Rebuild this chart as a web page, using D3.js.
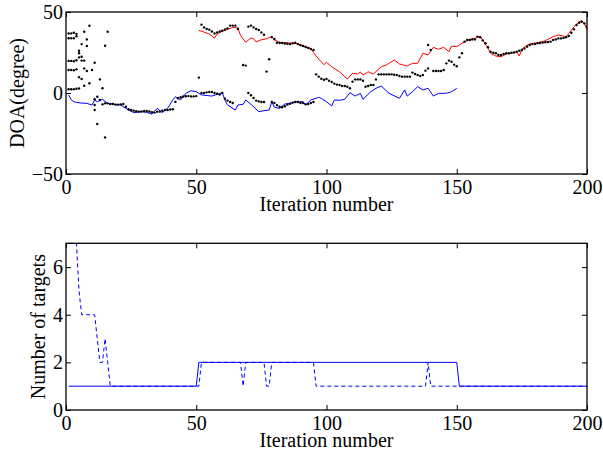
<!DOCTYPE html>
<html>
<head>
<meta charset="utf-8">
<script src="https://cdn.jsdelivr.net/npm/d3@7"></script>
<style>
  html, body { margin: 0; padding: 0; background: #fff; }
  svg { display: block; }
  text { font-family: "Liberation Serif", "Times New Roman", serif; fill: #000; }
</style>
</head>
<body>
<svg id="chart" width="603" height="454"></svg>
<script>
// ---- axis ticks ----
const iterTicks = [0, 50, 100, 150, 200];
const doaTicks = [-50, 0, 50];
const countTicks = [0, 2, 4, 6];

// ---- true DOA of target 1 (blue) ----
const target1Iter = [1, 2, 3, 4, 6, 8, 10, 11, 12, 14, 16, 19, 21, 24, 26, 29, 31, 33, 35, 37, 39, 41, 42, 44, 46, 48, 50,
  52, 56, 60, 61, 62, 65, 66, 68, 69, 71, 74, 76, 78, 79, 80, 82, 84, 86, 88, 91, 92, 94, 97, 98,
  100, 102, 103, 105, 107, 109, 111, 113, 114, 117, 119, 121, 124, 128, 130, 131, 133, 135, 137, 139,
  141, 143, 146, 148, 150];
const target1Doa = [-1.2, -4.2, -5.4, -5.8, -6.2, -6.4, -7.4, -4.3, -5.4, -3.9, -6.4, -7, -7.4, -10.5, -12.1, -11.5, -12, -13, -9.5, -12.1, -9.5, -4.3, -2.3, -4.3, -0.2, 1.4, 0.8,
  -1.2, -1.9, 0.2, -4.3, -7.4, -10.5, -7.4, -7, -4.3, -7, -11.5, -10.9, -10.5, -5.4, -8.8, -9.5, -6.8, -6.4, -5.4, -5.4, -7.4, -4.3, -2.7, -3.3,
  -5.4, -8, -4.3, -4.5, -3.9, 0.2, -1.9, -0.2, -3.9, 0.8, 2.9, 4.3, -0.2, -3.3, 1.9, -1.9, 0.8, 3.9, 1.9, 2.9,
  -1.9, -0.2, -0.2, 0.8, 2.9];

// ---- true DOA of target 2 (red) ----
const target2Iter = [51, 53, 55, 57, 58, 60, 62, 64, 66, 67, 69, 71, 72, 73, 75, 77, 79, 80, 82, 84, 87, 89, 92, 94, 95, 96, 98, 99,
  100, 102, 105, 108, 110, 112, 113, 114, 116, 118, 121, 123, 126, 128, 131, 133, 135, 137, 139, 141, 143, 145, 147, 148,
  150, 151, 153, 155, 157, 158, 159, 160, 162, 163, 165, 167, 169, 171, 173, 174, 175, 177, 179, 181, 184, 187, 189,
  192, 193, 195, 197, 198, 199, 200];
const target2Doa = [38.7, 37.6, 36.4, 33.8, 36.4, 38.2, 39.2, 40.5, 40.2, 35.5, 31.3, 34, 33.5, 31.5, 32.9, 33.5, 34.8, 32.7, 31.3, 31, 30.7, 30.4, 28.6, 27.4, 25, 22.8, 19.2, 17.5,
  19, 16.2, 13.1, 8.6, 12.2, 11.7, 13, 11.1, 13.1, 11.7, 16.2, 17.3, 20.4, 17.9, 16.7, 18.3, 18.3, 24.5, 23.5, 28.2, 27, 28.2, 25.5, 29,
  28.6, 29.6, 31.7, 33.1, 33.8, 34.4, 34.8, 32.7, 27.6, 24.5, 22.8, 22.4, 24.1, 24.5, 25.5, 22.8, 27, 29.6, 30.7, 31, 32.3, 34.8, 35.8,
  34.8, 36.8, 40.9, 44, 44.6, 43, 38.9];

// ---- estimated DOAs (black dots), [iteration, degree] ----
const estEarly = [
  [1, 36.8], [2, 36.8], [3, 37.2], [4, 36.5],
  [1, 33.8], [2, 33.8], [3, 33.8], [4, 35],
  [1, 19.8], [2, 19.8], [3, 19.6], [4, 20.2],
  [1, 14.2], [2, 14.2], [3, 14], [4, 14.6],
  [1, 2.3], [2, 2.3], [3, 2.3], [4, 2.6], [5, 2.8],
  [5, 24.5], [5, 26.1], [5, 22], [5, 9.7], [6, 30.2], [6, 22.4], [6, 8.6], [6, 20],
  [7, 37.8], [7, 20], [7, 15.2], [7, 4.5], [8, 33.1], [8, 29], [8, 13.6], [9, 41.5], [9, 6],
  [10, 14.2], [11, 18.7], [11, -3.9], [11, -10.5], [11, -7.4], [12, -2.3], [12, -19.1], [13, 8.4], [13, -4.3],
  [14, 2.9], [15, 29.2], [15, -27.4], [16, 37.8]
];
const estLower = [
  [14, -7], [15, -6.4], [16, -6.4], [17, -6.8], [18, -6.8], [19, -7.2], [20, -7.2], [21, -7], [22, -6.8],
  [23, -8.5], [24, -10], [25, -10.5], [26, -10.9], [27, -11.3], [28, -11.5], [29, -11.4], [30, -11.1], [31, -11.1],
  [32, -11.4], [33, -11.9], [34, -12.1], [35, -11.5], [36, -11.5], [37, -11], [38, -10.5], [39, -10.5], [40, -10.2],
  [41, -10], [42, -5.5], [43, -3.2], [44, -2.6], [45, -2.2], [46, -2], [47, -1.9], [48, -2.1], [49, -2.1], [50, -1.9],
  [52, 0], [53, 0], [54, 0.4], [55, 0.6], [56, 0.6], [57, 0], [58, -0.5], [59, -1], [60, 0],
  [61, -3.5], [62, -4.7], [63, -5.6], [64, -6.2],
  [70, 0], [71, -1.4], [72, -3.1], [73, -4.7], [74, -5.2], [75, -5.6], [76, -5.6],
  [79, -5.6], [80, -6.2], [81, -7.5], [82, -8.5], [83, -8.8], [84, -8.2], [85, -7.2], [86, -6.6], [87, -6],
  [88, -5.6], [89, -5.6], [90, -6.2], [91, -6.2], [92, -7], [93, -6.8], [94, -6.2], [95, -5.6]
];
const estUpper = [
  [52, 42.2], [53, 40.5], [54, 39.5], [55, 39.1], [56, 38], [57, 36.8], [58, 37.4], [59, 38], [60, 38.5],
  [61, 39.2], [62, 39.9], [63, 41.6], [64, 41.6], [65, 41.6], [66, 39.5],
  [70, 41], [71, 41.6], [72, 40.5], [73, 39.5], [74, 38.9], [75, 37.4], [76, 36],
  [79, 34.5], [80, 33.3], [81, 31], [82, 30.9], [83, 30.9], [84, 30.6], [85, 30.4], [86, 30.2], [87, 30.7],
  [88, 31], [89, 30.2], [90, 29.5], [91, 29], [92, 28.4], [93, 27.8], [94, 27.2], [95, 26.5]
];
const estSingle = [
  [51, 9.5], [68, 17.3], [69, 16.9], [77, 13.2], [78, 20.8],
  [96, 11.5], [97, 10.1], [98, 8.8], [99, 8.2], [100, 8.6], [101, 7.6], [102, 6.8], [103, 5.8], [104, 5.2],
  [105, 4.9], [106, 4.3], [107, 4.3], [108, 3.9], [109, 2.9], [110, 7], [111, 8.4], [112, 8.4], [113, 8.4],
  [114, 7.6], [115, 3.9], [116, 4.3], [117, 4.9], [118, 4.9], [119, 8.4], [120, 11.5], [121, 11.5], [122, 11.5],
  [123, 11.5], [124, 11.5], [125, 11.5], [126, 11.3], [127, 11.1], [128, 10.5], [129, 10.1], [130, 10.1],
  [131, 10.1], [132, 10.1], [133, 12.6], [134, 11.7], [135, 11.1], [136, 10.5], [137, 11.1], [138, 13.8],
  [139, 15.2], [139, 29.6], [140, 26.5], [141, 13.6], [142, 13.6], [143, 13.6], [144, 13.6], [145, 14.2],
  [146, 18.3], [147, 20], [148, 19.3], [149, 17.5], [150, 16.5], [151, 22], [152, 24.5],
  [153, 31.7], [154, 32.7], [155, 32.7], [156, 33.1], [157, 33.1], [158, 34.8], [159, 34.4], [160, 32.5],
  [161, 30.7], [162, 28.2], [163, 25.5], [164, 24.9], [165, 24.5], [166, 23.5], [167, 23.5], [168, 24.1],
  [169, 24.5], [170, 24.5], [171, 24.9], [172, 25], [173, 25.5], [174, 26.1], [175, 26.5], [176, 27.5],
  [177, 28.6], [178, 29.6], [179, 30.2], [180, 30.2], [181, 30.7], [182, 30.9], [183, 31.1], [184, 31.3],
  [185, 31.5], [186, 31.7], [187, 32.7], [188, 33.1], [189, 33.7], [190, 33.7], [191, 34], [192, 34.4],
  [193, 35.2], [194, 37.2], [195, 39.3], [196, 42], [197, 43.4], [198, 44], [199, 43], [200, 40.9]
];

// ---- number of targets: true (solid) and estimated (dashed) ----
const trueCountIter = [1, 50, 51, 150, 151, 200];
const trueCount = [1, 1, 2, 2, 1, 1];
const estCountIter = [1, 4, 5, 6, 11, 12, 13, 14, 15, 16, 17, 51, 52, 67, 68, 69, 76, 77, 78, 79, 95, 96, 138, 139, 140, 200];
const estCount = [7, 7, 5, 4, 4, 3, 2, 2, 3, 2, 1, 1, 2, 2, 1, 2, 2, 1, 1, 2, 2, 1, 1, 2, 1, 1];

// ---- layout ----
const svg = d3.select("#chart");
const left = 66, right = 587;
const topPanel = { top: 12, bottom: 174 };
const botPanel = { top: 243.3, bottom: 410 };
const fontSize = 20;

const x = d3.scaleLinear().domain([0, 200]).range([left, right]);
const yDoa = d3.scaleLinear().domain([-50, 50]).range([topPanel.bottom, topPanel.top]);
const yCnt = d3.scaleLinear().domain([0, 7]).range([botPanel.bottom, botPanel.top]);

const fmt = d => (d < 0 ? "\u2212" + Math.abs(d) : String(d));

function drawFrame(y, yTicks, panel, ylabel, ylabelX) {
  const g = svg.append("g");
  // bottom axis with labels, ticks pointing inward
  g.append("g").attr("transform", `translate(0,${panel.bottom})`)
    .call(d3.axisBottom(x).tickValues(iterTicks).tickFormat(fmt).tickSizeInner(-5).tickSizeOuter(0).tickPadding(6));
  // top mirror ticks
  g.append("g").attr("transform", `translate(0,${panel.top})`)
    .call(d3.axisTop(x).tickValues(iterTicks).tickFormat("").tickSizeInner(-5).tickSizeOuter(0));
  // left axis with labels
  g.append("g").attr("transform", `translate(${left},0)`)
    .call(d3.axisLeft(y).tickValues(yTicks).tickFormat(fmt).tickSizeInner(-5).tickSizeOuter(0).tickPadding(3));
  // right mirror ticks
  g.append("g").attr("transform", `translate(${right},0)`)
    .call(d3.axisRight(y).tickValues(yTicks).tickFormat("").tickSizeInner(-5).tickSizeOuter(0));
  g.selectAll(".domain").remove();
  g.selectAll(".tick line").attr("stroke", "#000").attr("stroke-width", 1);
  g.selectAll(".tick text").style("font-family", '"Liberation Serif", serif').style("font-size", fontSize + "px").attr("fill", "#000");

  // x label
  g.append("text")
    .attr("x", (left + right) / 2).attr("y", panel.bottom + 37)
    .attr("text-anchor", "middle").style("font-size", fontSize + "px")
    .text("Iteration number");
  // y label
  g.append("text")
    .attr("transform", `translate(${ylabelX},${(panel.top + panel.bottom) / 2}) rotate(-90)`)
    .attr("text-anchor", "middle").attr("dy", "0.35em").style("font-size", fontSize + "px")
    .text(ylabel);
  return g;
}

function drawBox(panel) {
  svg.append("rect")
    .attr("x", left).attr("y", panel.top)
    .attr("width", right - left).attr("height", panel.bottom - panel.top)
    .attr("fill", "none").attr("stroke", "#000").attr("stroke-width", 1.3);
}

// clip paths for each panel
const defs = svg.append("defs");
defs.append("clipPath").attr("id", "clipTop").append("rect")
  .attr("x", left).attr("y", topPanel.top).attr("width", right - left).attr("height", topPanel.bottom - topPanel.top);
defs.append("clipPath").attr("id", "clipBot").append("rect")
  .attr("x", left).attr("y", botPanel.top - 1).attr("width", right - left).attr("height", botPanel.bottom - botPanel.top + 1);

// ===== top panel: DOA tracks =====
drawFrame(yDoa, doaTicks, topPanel, "DOA(degree)", 17);
const topG = svg.append("g").attr("clip-path", "url(#clipTop)");

const lineDoa = d3.line().x(d => x(d[0])).y(d => yDoa(d[1]));
topG.append("path")
  .datum(d3.zip(target1Iter, target1Doa))
  .attr("d", lineDoa).attr("fill", "none").attr("stroke", "#0000ff").attr("stroke-width", 1);
topG.append("path")
  .datum(d3.zip(target2Iter, target2Doa))
  .attr("d", lineDoa).attr("fill", "none").attr("stroke", "#ff0000").attr("stroke-width", 1);

const allDots = [].concat(estEarly, estLower, estUpper, estSingle);
topG.selectAll("circle.est").data(allDots).join("circle")
  .attr("class", "est")
  .attr("cx", d => x(d[0])).attr("cy", d => yDoa(d[1]))
  .attr("r", 1.2).attr("fill", "#000");
drawBox(topPanel);

// ===== bottom panel: number of targets =====
drawFrame(yCnt, countTicks, botPanel, "Number of targets", 38);
const botG = svg.append("g").attr("clip-path", "url(#clipBot)");
const lineCnt = d3.line().x(d => x(d[0])).y(d => yCnt(d[1]));
botG.append("path")
  .datum(d3.zip(trueCountIter, trueCount))
  .attr("d", lineCnt).attr("fill", "none").attr("stroke", "#0000ff").attr("stroke-width", 1);
botG.append("path")
  .datum(d3.zip(estCountIter, estCount))
  .attr("d", lineCnt).attr("fill", "none").attr("stroke", "#0000ff").attr("stroke-width", 1)
  .attr("stroke-dasharray", "4,3");
drawBox(botPanel);
</script>
</body>
</html>
